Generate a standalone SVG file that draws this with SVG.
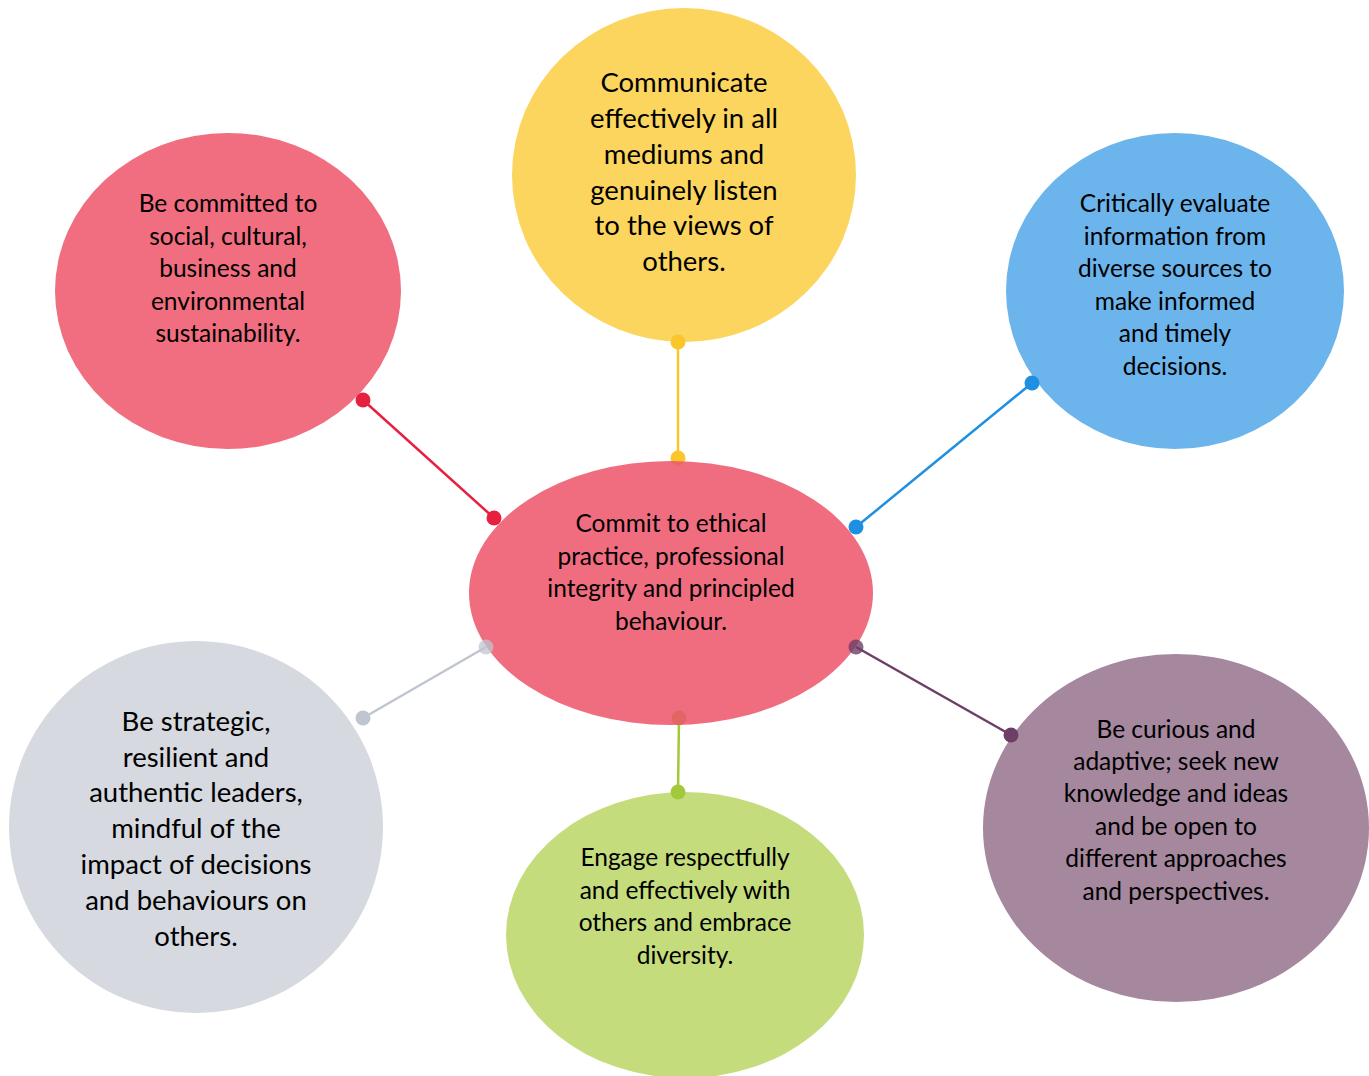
<svg xmlns="http://www.w3.org/2000/svg" width="1369" height="1076" viewBox="0 0 1369 1076">
<style>
text{font-family:Lato,"Liberation Sans",sans-serif;fill:#000;text-anchor:middle}
.s{font-size:24.5px}
.b{font-size:27.5px}
.ln{stroke-width:2.5;fill:none}
</style>
<rect width="1369" height="1076" fill="#fff"/>
<g id="node-yellow"><ellipse cx="684" cy="175" rx="172" ry="167" fill="#fcd55e"/>
<text class="b"><tspan x="684" y="92">Communicate</tspan><tspan x="684" y="128">effectively in all</tspan><tspan x="684" y="164">mediums and</tspan><tspan x="684" y="200">genuinely listen</tspan><tspan x="684" y="235">to the views of</tspan><tspan x="684" y="271">others.</tspan></text></g>
<g id="node-red"><ellipse cx="228" cy="291" rx="173" ry="158" fill="#f06e7f"/>
<text class="s"><tspan x="228" y="212">Be committed to</tspan><tspan x="228" y="245">social, cultural,</tspan><tspan x="228" y="277">business and</tspan><tspan x="228" y="310">environmental</tspan><tspan x="228" y="342">sustainability.</tspan></text></g>
<g id="node-blue"><ellipse cx="1175" cy="291" rx="169" ry="158" fill="#6cb4ec"/>
<text class="s"><tspan x="1175" y="212">Critically evaluate</tspan><tspan x="1175" y="245">information from</tspan><tspan x="1175" y="277">diverse sources to</tspan><tspan x="1175" y="310">make informed</tspan><tspan x="1175" y="342">and timely</tspan><tspan x="1175" y="375">decisions.</tspan></text></g>
<g id="node-grey"><ellipse cx="196" cy="827" rx="187" ry="186" fill="#d6d9df"/>
<text class="b"><tspan x="196" y="731">Be strategic,</tspan><tspan x="196" y="767">resilient and</tspan><tspan x="196" y="802">authentic leaders,</tspan><tspan x="196" y="838">mindful of the</tspan><tspan x="196" y="874">impact of decisions</tspan><tspan x="196" y="910">and behaviours on</tspan><tspan x="196" y="946">others.</tspan></text></g>
<g id="node-green"><ellipse cx="685" cy="935" rx="179" ry="143" fill="#c5dc7c"/>
<text class="s"><tspan x="685" y="866">Engage respectfully</tspan><tspan x="685" y="899">and effectively with</tspan><tspan x="685" y="931">others and embrace</tspan><tspan x="685" y="964">diversity.</tspan></text></g>
<g id="node-purple"><ellipse cx="1176" cy="828" rx="193" ry="174" fill="#a5879e"/>
<text class="s"><tspan x="1176" y="738">Be curious and</tspan><tspan x="1176" y="770">adaptive; seek new</tspan><tspan x="1176" y="802">knowledge and ideas</tspan><tspan x="1176" y="835">and be open to</tspan><tspan x="1176" y="867">different approaches</tspan><tspan x="1176" y="900">and perspectives.</tspan></text></g>
<g id="connectors">
<line class="ln" x1="363" y1="400" x2="494" y2="518" stroke="#e8203f"/>
<line class="ln" x1="678" y1="342" x2="678" y2="458" stroke="#fbc52c"/>
<line class="ln" x1="1032" y1="383" x2="856" y2="527" stroke="#1e8fe1"/>
<line class="ln" x1="363" y1="718" x2="486" y2="647" stroke="#c0c6d0"/>
<line class="ln" x1="678" y1="792" x2="679" y2="718" stroke="#a3c83a"/>
<line class="ln" x1="1011" y1="735" x2="856" y2="647" stroke="#6e3f66"/>
<circle cx="363" cy="400" r="7.5" fill="#e8203f"/>
<circle cx="678" cy="342" r="7.5" fill="#fbc52c"/>
<circle cx="1032" cy="383" r="7.5" fill="#1e8fe1"/>
<circle cx="363" cy="718" r="7.5" fill="#c0c6d0"/>
<circle cx="678" cy="792" r="7.5" fill="#a3c83a"/>
<circle cx="1011" cy="735" r="7.5" fill="#6e3f66"/>
<circle cx="678" cy="458" r="7.5" fill="#fbc52c"/>
<circle cx="679" cy="718" r="7.5" fill="#a3c83a"/>
</g>
<g id="node-center"><ellipse cx="671" cy="593" rx="202" ry="132" fill="#ed546a" fill-opacity="0.85"/>
<text class="s"><tspan x="671" y="532">Commit to ethical</tspan><tspan x="671" y="565">practice, professional</tspan><tspan x="671" y="597">integrity and principled</tspan><tspan x="671" y="630">behaviour.</tspan></text></g>
<g id="connector-dots-top">
<circle cx="494" cy="518" r="7.5" fill="#e8203f"/>
<circle cx="856" cy="527" r="7.5" fill="#1e8fe1"/>
<circle cx="486" cy="647" r="7.5" fill="#c0c6d0" fill-opacity="0.75"/>
<circle cx="856" cy="647" r="7.5" fill="#6e3f66" fill-opacity="0.8"/>
</g>
</svg>
